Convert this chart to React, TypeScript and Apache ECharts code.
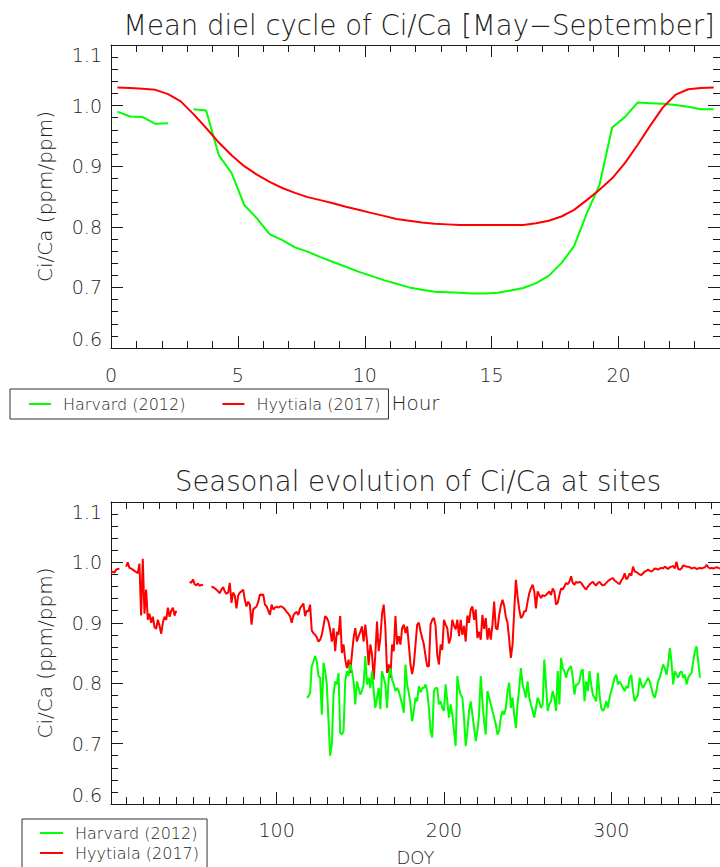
import React, { useEffect, useRef } from "react";
import * as echarts from "echarts";

// ---------- Top panel: mean diel cycle (half-hourly) ----------
const hours = [
  0.25, 0.75, 1.25, 1.75, 2.25, 2.75, 3.25, 3.75, 4.25, 4.75, 5.25, 5.75,
  6.25, 6.75, 7.25, 7.75, 8.25, 8.75, 9.25, 9.75, 10.25, 10.75, 11.25, 11.75,
  12.25, 12.75, 13.25, 13.75, 14.25, 14.75, 15.25, 15.75, 16.25, 16.75, 17.25, 17.75,
  18.25, 18.75, 19.25, 19.75, 20.25, 20.75, 21.25, 21.75, 22.25, 22.75, 23.25, 23.75,
];
const harvardDiel = [
  0.990, 0.982, 0.981, 0.970, 0.971, null, 0.994, 0.992, 0.918, 0.889, 0.836, 0.814,
  0.788, 0.778, 0.766, 0.759, 0.750, 0.742, 0.734, 0.726, 0.719, 0.712, 0.706, 0.700,
  0.696, 0.693, 0.692, 0.691, 0.690, 0.690, 0.691, 0.695, 0.699, 0.707, 0.719, 0.740,
  0.768, 0.822, 0.869, 0.964, 0.981, 1.005, 1.004, 1.003, 1.001, 0.998, 0.994, 0.994,
];
const hyytialaDiel = [
  1.030, 1.029, 1.028, 1.026, 1.019, 1.007, 0.986, 0.963, 0.939, 0.918, 0.900, 0.886,
  0.874, 0.864, 0.856, 0.849, 0.844, 0.839, 0.833, 0.828, 0.823, 0.818, 0.813, 0.810,
  0.807, 0.805, 0.804, 0.803, 0.803, 0.803, 0.803, 0.803, 0.803, 0.806, 0.810, 0.817,
  0.828, 0.844, 0.861, 0.880, 0.905, 0.935, 0.967, 0.997, 1.018, 1.027, 1.029, 1.030,
];
const hourMajorTicks = [0, 5, 10, 15, 20];
const hourMinorTicks = [1, 2, 3, 4, 6, 7, 8, 9, 11, 12, 13, 14, 16, 17, 18, 19, 21, 22, 23];

// ---------- shared y ticks ----------
const ratioMajorTicks = [0.6, 0.7, 0.8, 0.9, 1.0, 1.1];
const ratioMinorTicks = [
  0.62, 0.64, 0.66, 0.68, 0.72, 0.74, 0.76, 0.78, 0.82, 0.84, 0.86, 0.88,
  0.92, 0.94, 0.96, 0.98, 1.02, 1.04, 1.06, 1.08,
];

// ---------- Bottom panel: seasonal evolution (daily, by DOY) ----------
const doyMajorTicks = [100, 200, 300];
const doyMinorTicks = [
  10, 20, 30, 40, 50, 60, 70, 80, 90, 110, 120, 130, 140, 150, 160, 170, 180, 190,
  210, 220, 230, 240, 250, 260, 270, 280, 290, 310, 320, 330, 340, 350, 360,
];

const hyytialaFirstDoy = 1;
const hyytialaDaily = [
  0.986, 0.984, 0.983, 0.988, 0.989, 0.989, null, null, null, 0.993, // 1-10
  1.000, 0.991, 0.990, 0.988, 0.986, 0.984, 0.982, 0.998, 0.912, 1.006, // 11-20
  0.915, 0.955, 0.905, 0.915, 0.900, 0.910, 0.893, 0.890, 0.905, 0.895, // 21-30
  0.882, 0.900, 0.910, 0.905, 0.925, 0.910, 0.920, 0.925, 0.912, 0.920, // 31-40
  null, null, null, null, null, null, null, 0.968, 0.966, 0.972, // 41-50
  0.964, 0.962, 0.965, 0.961, 0.963, 0.962, null, null, null, null, // 51-60
  0.960, 0.959, 0.957, 0.955, 0.952, 0.949, 0.955, 0.959, 0.952, 0.948, // 61-70
  0.950, 0.966, 0.933, 0.950, 0.945, 0.924, 0.945, 0.950, 0.952, 0.955, // 71-80
  0.938, 0.927, 0.935, 0.930, 0.897, 0.922, 0.925, 0.927, 0.935, 0.947, // 81-90
  0.946, 0.947, 0.930, 0.927, 0.920, 0.913, 0.930, 0.922, 0.925, 0.927, // 91-100
  0.925, 0.927, 0.927, 0.925, 0.922, 0.918, 0.915, 0.911, 0.900, 0.912, // 101-110
  0.916, 0.918, 0.913, 0.924, 0.928, 0.932, 0.911, 0.920, 0.919, 0.930, // 111-120
  0.887, 0.883, 0.880, 0.876, 0.869, 0.872, 0.880, 0.895, 0.911, 0.908, // 121-130
  0.902, 0.888, 0.869, 0.891, 0.853, 0.885, 0.880, 0.911, 0.850, 0.864, // 131-140
  0.839, 0.825, 0.839, 0.817, 0.848, 0.875, 0.891, 0.869, 0.878, 0.885, // 141-150
  0.894, 0.869, 0.897, 0.870, 0.830, 0.864, 0.848, 0.806, 0.848, 0.902, // 151-160
  0.853, 0.875, 0.915, 0.930, 0.892, 0.817, 0.831, 0.809, 0.864, 0.853, // 161-170
  0.911, 0.864, 0.878, 0.864, 0.891, 0.897, 0.883, 0.894, 0.864, 0.831, // 171-180
  0.815, 0.831, 0.864, 0.897, 0.900, 0.886, 0.875, 0.864, 0.845, 0.828, // 181-190
  0.828, 0.897, 0.905, 0.908, 0.895, 0.847, 0.831, 0.864, 0.855, 0.905, // 191-200
  0.897, 0.891, 0.866, 0.875, 0.905, 0.895, 0.889, 0.905, 0.878, 0.905, // 201-210
  0.880, 0.895, 0.869, 0.912, 0.900, 0.922, 0.927, 0.905, 0.922, 0.875, // 211-220
  0.885, 0.872, 0.913, 0.890, 0.908, 0.872, 0.891, 0.872, 0.897, 0.935, // 221-230
  0.891, 0.889, 0.913, 0.928, 0.938, 0.928, 0.910, 0.900, 0.872, 0.842, // 231-240
  0.864, 0.919, 0.971, 0.944, 0.922, 0.908, 0.911, 0.919, 0.919, 0.935, // 241-250
  0.949, 0.957, 0.963, 0.952, 0.924, 0.952, 0.946, 0.941, 0.946, 0.944, // 251-260
  0.946, 0.949, 0.952, 0.946, 0.957, 0.952, 0.930, 0.933, 0.946, 0.957, // 261-270
  0.955, 0.960, 0.966, 0.964, 0.968, 0.977, 0.966, 0.963, 0.968, 0.966, // 271-280
  0.968, 0.966, 0.962, 0.958, 0.955, 0.960, 0.963, 0.966, 0.968, 0.964, // 281-290
  0.962, 0.966, 0.968, 0.964, 0.962, 0.963, 0.966, 0.969, 0.971, 0.973, // 291-300
  0.974, 0.970, 0.968, 0.966, 0.964, 0.970, 0.974, 0.982, 0.972, 0.975, // 301-310
  0.982, 0.978, 0.993, 0.985, 0.984, 0.982, 0.980, 0.979, 0.982, 0.985, // 311-320
  0.986, 0.988, 0.986, 0.985, 0.987, 0.990, 0.989, 0.988, 0.990, 0.991, // 321-330
  0.990, 0.993, 0.991, 0.989, 0.992, 0.993, 0.994, 0.990, 1.001, 0.989, // 331-340
  0.988, 0.990, 0.995, 0.994, 0.993, 0.993, 0.992, 0.990, 0.991, 0.991, // 341-350
  0.989, 0.990, 0.991, 0.990, 0.991, 0.992, 0.996, 0.992, 0.990, 0.991, // 351-360
  0.990, 0.991, 0.992, 0.991, 0.990, // 361-365
];

const harvardFirstDoy = 118;
const harvardDaily = [
  0.776, 0.778, 0.784, // 118-120
  0.828, 0.836, 0.845, 0.836, 0.812, 0.809, 0.748, 0.834, 0.820, 0.798, // 121-130
  0.737, 0.680, 0.699, 0.781, 0.803, 0.798, 0.817, 0.718, 0.715, 0.721, // 131-140
  0.803, 0.820, 0.812, 0.831, 0.820, 0.803, 0.765, 0.803, 0.792, 0.781, // 141-150
  0.787, 0.798, 0.845, 0.798, 0.809, 0.792, 0.820, 0.787, 0.759, 0.776, // 151-160
  0.792, 0.757, 0.820, 0.809, 0.798, 0.759, 0.809, 0.825, 0.806, 0.798, // 161-170
  0.787, 0.792, 0.787, 0.776, 0.765, 0.751, 0.831, 0.798, 0.784, 0.765, // 171-180
  0.737, 0.754, 0.776, 0.770, 0.795, 0.785, 0.792, 0.792, 0.798, 0.787, // 181-190
  0.759, 0.721, 0.710, 0.787, 0.792, 0.792, 0.765, 0.770, 0.759, 0.754, // 191-200
  0.798, 0.770, 0.743, 0.765, 0.748, 0.721, 0.696, 0.812, 0.792, 0.781, // 201-210
  0.776, 0.743, 0.696, 0.721, 0.754, 0.770, 0.748, 0.726, 0.704, 0.721, // 211-220
  0.748, 0.812, 0.770, 0.737, 0.715, 0.787, 0.776, 0.765, 0.754, 0.743, // 221-230
  0.732, 0.715, 0.721, 0.743, 0.754, 0.748, 0.759, 0.787, 0.801, 0.759, // 231-240
  0.776, 0.748, 0.726, 0.765, 0.792, 0.825, 0.798, 0.787, 0.776, 0.803, // 241-250
  0.776, 0.765, 0.754, 0.743, 0.759, 0.776, 0.770, 0.759, 0.765, 0.839, // 251-260
  0.798, 0.754, 0.765, 0.770, 0.787, 0.776, 0.754, 0.820, 0.765, 0.842, // 261-270
  0.825, 0.820, 0.809, 0.820, 0.825, 0.828, 0.809, 0.781, 0.798, 0.798, // 271-280
  0.803, 0.820, 0.823, 0.770, 0.803, 0.787, 0.820, 0.798, 0.781, 0.776, // 281-290
  0.770, 0.817, 0.781, 0.759, 0.754, 0.759, 0.770, 0.759, 0.776, 0.787, // 291-300
  0.798, 0.809, 0.814, 0.798, 0.803, 0.798, 0.792, 0.787, 0.795, 0.792, // 301-310
  0.809, 0.814, 0.787, 0.770, 0.776, 0.781, 0.809, 0.798, 0.792, 0.798, // 311-320
  0.803, 0.809, 0.803, 0.792, 0.781, 0.776, 0.787, 0.803, 0.809, 0.820, // 321-330
  0.831, 0.825, 0.814, 0.831, 0.858, 0.836, 0.798, 0.820, 0.814, 0.809, // 331-340
  0.817, 0.820, 0.809, 0.814, 0.798, 0.809, 0.814, 0.817, 0.836, 0.853, // 341-350
  0.861, 0.836, 0.809, // 351-353
];

const seriesNames = ["Harvard (2012)", "Hyytiala (2017)"];
const seriesColors = ["#00ff00", "#ff0000"];

// ---------- styling ----------
const FONT = "DejaVu Sans";
const TEXT = "#222222";
const AXIS = "#1a1a1a";

function byDoy(first: number, values: (number | null)[]) {
  return values.map((v, i) => [first + i, v]);
}
function byHour(values: (number | null)[]) {
  return values.map((v, i) => [hours[i], v]);
}

function makeXAxes(
  gridIndex: number,
  min: number,
  max: number,
  major: number[],
  minor: number[],
  name: string,
  nameGap: number,
  nameSize: number,
  labelMargin: number
) {
  const line = { show: true, onZero: false, lineStyle: { color: AXIS, width: 1 } };
  const noLine = { show: false, onZero: false };
  const base = { type: "value", gridIndex, min, max, splitLine: { show: false } };
  const tick = (vals: number[], len: number) => ({
    show: true,
    inside: true,
    length: len,
    customValues: vals,
    lineStyle: { color: AXIS, width: 1 },
  });
  return [
    {
      ...base,
      position: "bottom",
      axisLine: line,
      axisTick: tick(major, 12),
      axisLabel: {
        show: true,
        customValues: major,
        margin: labelMargin,
        fontFamily: FONT,
        fontSize: 19,
        fontWeight: 300,
        color: TEXT,
        formatter: (v: number) => String(v),
      },
      name,
      nameLocation: "middle",
      nameGap,
      nameTextStyle: { fontFamily: FONT, fontSize: nameSize, fontWeight: 300, color: TEXT },
    },
    { ...base, position: "bottom", axisLine: noLine, axisTick: tick(minor, 7), axisLabel: { show: false } },
    { ...base, position: "top", axisLine: line, axisTick: tick(major, 12), axisLabel: { show: false } },
    { ...base, position: "top", axisLine: noLine, axisTick: tick(minor, 7), axisLabel: { show: false } },
  ];
}

function makeYAxes(gridIndex: number) {
  const line = { show: true, onZero: false, lineStyle: { color: AXIS, width: 1 } };
  const noLine = { show: false, onZero: false };
  const base = { type: "value", gridIndex, min: 0.6, max: 1.1, splitLine: { show: false } };
  const tick = (vals: number[], len: number) => ({
    show: true,
    inside: true,
    length: len,
    customValues: vals,
    lineStyle: { color: AXIS, width: 1 },
  });
  return [
    {
      ...base,
      position: "left",
      axisLine: line,
      axisTick: tick(ratioMajorTicks, 12),
      axisLabel: {
        show: true,
        customValues: ratioMajorTicks,
        margin: 9,
        fontFamily: FONT,
        fontSize: 19,
        fontWeight: 300,
        color: TEXT,
        formatter: (v: number) => v.toFixed(1),
        verticalAlignMinLabel: "bottom",
        verticalAlignMaxLabel: "top",
      },
      name: "Ci/Ca (ppm/ppm)",
      nameLocation: "middle",
      nameGap: 56,
      nameTextStyle: { fontFamily: FONT, fontSize: 20, fontWeight: 300, color: TEXT },
    },
    { ...base, position: "left", axisLine: noLine, axisTick: tick(ratioMinorTicks, 7), axisLabel: { show: false } },
    { ...base, position: "right", axisLine: line, axisTick: tick(ratioMajorTicks, 12), axisLabel: { show: false } },
    { ...base, position: "right", axisLine: noLine, axisTick: tick(ratioMinorTicks, 7), axisLabel: { show: false } },
  ];
}

function lineSeries(name: string, color: string, data: any[], axisIndex: number) {
  return {
    type: "line",
    name,
    data,
    xAxisIndex: axisIndex,
    yAxisIndex: axisIndex,
    showSymbol: false,
    symbol: "none",
    connectNulls: false,
    lineStyle: { color, width: 2 },
    itemStyle: { color },
    emphasis: { disabled: true },
  };
}

export default function App() {
  const ref = useRef<HTMLDivElement>(null);

  useEffect(() => {
    if (!ref.current) return;
    const chart = echarts.init(ref.current, null, { renderer: "svg" });
    const legendText = {
      fontFamily: FONT,
      fontSize: 16,
      fontWeight: 300,
      color: TEXT,
      lineHeight: 20,
      padding: [0, 0, 0, 7],
    };
    const titleText = { fontFamily: FONT, fontSize: 27.5, fontWeight: 300, color: TEXT };
    const option: any = {
      animation: false,
      backgroundColor: "#ffffff",
      title: [
        {
          text: "Mean diel cycle of Ci/Ca [May\u2212September]",
          left: 419,
          top: 11,
          padding: 0,
          textAlign: "center",
          textStyle: titleText,
        },
        {
          text: "Seasonal evolution of Ci/Ca at sites",
          left: 418,
          top: 467,
          padding: 0,
          textAlign: "center",
          textStyle: titleText,
        },
      ],
      grid: [
        { left: 111, top: 45, width: 614, height: 303, containLabel: false },
        { left: 111, top: 502, width: 614, height: 302, containLabel: false },
      ],
      xAxis: [
        ...makeXAxes(0, 0, 24, hourMajorTicks, hourMinorTicks, "Hour", 45, 20, 17),
        ...makeXAxes(1, 1, 365, doyMajorTicks, doyMinorTicks, "DOY", 44, 18, 16),
      ],
      yAxis: [...makeYAxes(0), ...makeYAxes(1)],
      legend: [
        {
          data: seriesNames,
          orient: "horizontal",
          left: 10,
          top: 389,
          padding: [5, 8, 5, 19],
          itemGap: 37,
          itemWidth: 22,
          itemHeight: 2,
          icon: "rect",
          borderColor: "#333",
          borderWidth: 1,
          borderRadius: 0,
          backgroundColor: "#ffffff",
          selectedMode: false,
          textStyle: legendText,
        },
        {
          data: seriesNames,
          orient: "vertical",
          left: 22,
          top: 819,
          width: 200,
          height: 80,
          padding: [4, 8, 8, 18],
          itemGap: 0,
          itemWidth: 23,
          itemHeight: 2,
          icon: "rect",
          borderColor: "#333",
          borderWidth: 1,
          borderRadius: 0,
          backgroundColor: "#ffffff",
          selectedMode: false,
          textStyle: legendText,
        },
      ],
      series: [
        lineSeries(seriesNames[0], seriesColors[0], byHour(harvardDiel), 0),
        lineSeries(seriesNames[1], seriesColors[1], byHour(hyytialaDiel), 0),
        lineSeries(seriesNames[1], seriesColors[1], byDoy(hyytialaFirstDoy, hyytialaDaily), 4),
        lineSeries(seriesNames[0], seriesColors[0], byDoy(harvardFirstDoy, harvardDaily), 4),
      ],
    };
    chart.setOption(option);
    return () => chart.dispose();
  }, []);

  return (
    <div
      ref={ref}
      style={{ position: "absolute", left: 0, top: 0, width: 720, height: 867, background: "#fff" }}
    />
  );
}
